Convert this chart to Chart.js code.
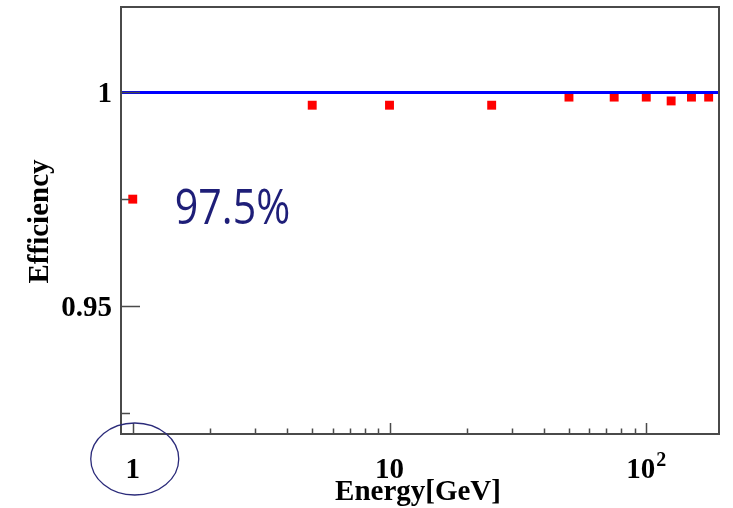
<!DOCTYPE html>
<html>
<head>
<meta charset="utf-8">
<title>Efficiency vs Energy</title>
<script src="https://cdn.jsdelivr.net/npm/chart.js@4/dist/chart.umd.min.js"></script>
<style>
  html, body { margin: 0; padding: 0; background: #ffffff; }
  canvas { display: block; }
</style>
</head>
<body>
<canvas id="c" width="733" height="508"></canvas>
<script>
// Beam energies [GeV] and measured efficiency
const energies = [1, 5, 10, 25, 50, 75, 100, 125, 150, 175];
const efficiency = [0.975, 0.997, 0.997, 0.997, 0.9989, 0.9989, 0.9989, 0.998, 0.9989, 0.9989];

// Reference level (full efficiency)
const referenceLevel = 1.0;

// Axis ranges
const xRange = [0.9, 192];
const yRange = [0.92, 1.02];

// Tick positions and labels
const xMajorTicks = [1, 10, 100];
const xMajorLabels = [['1', ''], ['10', ''], ['10', '2']];
const xMinorTicks = [2, 3, 4, 5, 6, 7, 8, 9, 20, 30, 40, 50, 60, 70, 80, 90];
const yMajorTicks = [0.95, 1.0];
const yMajorLabels = ['0.95', '1'];
const yMinorTicks = [0.925, 0.975];

const xTitle = 'Energy[GeV]';
const yTitle = 'Efficiency';

const points = energies.map((e, i) => ({ x: e, y: efficiency[i] }));
const refLine = [{ x: xRange[0], y: referenceLevel }, { x: xRange[1], y: referenceLevel }];

const SERIF_BOLD = "bold 29px 'Liberation Serif', 'DejaVu Serif', serif";
const SERIF_BOLD_SMALL = "bold 20px 'Liberation Serif', 'DejaVu Serif', serif";

const axesPlugin = {
  id: 'frameAxes',
  afterDatasetsDraw(chart) {
    const ctx = chart.ctx;
    const a = chart.chartArea;
    const xs = chart.scales.x, ys = chart.scales.y;
    ctx.save();

    // frame
    ctx.strokeStyle = '#4a4a4a';
    ctx.lineWidth = 2;
    ctx.strokeRect(a.left, a.top, a.right - a.left, a.bottom - a.top);

    // y ticks (inside the frame)
    ctx.lineWidth = 1.5;
    ctx.beginPath();
    yMajorTicks.forEach(v => {
      const p = Math.round(ys.getPixelForValue(v)) + 0.5;
      ctx.moveTo(a.left, p); ctx.lineTo(a.left + 19, p);
    });
    yMinorTicks.forEach(v => {
      const p = Math.round(ys.getPixelForValue(v)) + 0.5;
      ctx.moveTo(a.left, p); ctx.lineTo(a.left + 9, p);
    });
    // x ticks
    xMajorTicks.forEach(v => {
      const p = Math.round(xs.getPixelForValue(v)) + 0.5;
      ctx.moveTo(p, a.bottom); ctx.lineTo(p, a.bottom - 11);
    });
    xMinorTicks.forEach(v => {
      const p = Math.round(xs.getPixelForValue(v)) + 0.5;
      ctx.moveTo(p, a.bottom); ctx.lineTo(p, a.bottom - 5.5);
    });
    ctx.stroke();

    // y tick labels
    ctx.fillStyle = '#000000';
    ctx.font = SERIF_BOLD;
    ctx.textAlign = 'right';
    ctx.textBaseline = 'alphabetic';
    yMajorTicks.forEach((v, i) => {
      const p = ys.getPixelForValue(v);
      ctx.fillText(yMajorLabels[i], a.left - 9, p + 10);
    });

    // x tick labels (with optional exponent)
    const baseY = a.bottom + 44;
    xMajorTicks.forEach((v, i) => {
      const p = xs.getPixelForValue(v);
      const [base, exp] = xMajorLabels[i];
      ctx.font = SERIF_BOLD;
      const wb = ctx.measureText(base).width;
      let we = 0;
      if (exp) {
        ctx.font = SERIF_BOLD_SMALL;
        we = ctx.measureText(exp).width + 1;
      }
      const x0 = p - (wb + we) / 2;
      ctx.textAlign = 'left';
      ctx.font = SERIF_BOLD;
      ctx.fillText(base, x0, baseY);
      if (exp) {
        ctx.font = SERIF_BOLD_SMALL;
        ctx.fillText(exp, x0 + wb + 1, baseY - 12);
      }
    });

    // axis titles
    ctx.font = SERIF_BOLD;
    ctx.textAlign = 'center';
    ctx.fillText(xTitle, (a.left + a.right) / 2 - 2, a.bottom + 66);
    ctx.save();
    ctx.translate(48, (a.top + a.bottom) / 2 + 1);
    ctx.rotate(-Math.PI / 2);
    ctx.fillText(yTitle, 0, 0);
    ctx.restore();

    // ellipse around the first energy label
    const x1 = xs.getPixelForValue(energies[0]);
    ctx.strokeStyle = '#2b2b7a';
    ctx.lineWidth = 1.3;
    ctx.beginPath();
    ctx.ellipse(x1 + 2, a.bottom + 25, 44, 36, 0, 0, Math.PI * 2);
    ctx.stroke();

    // efficiency annotation for the lowest energy
    const py = ys.getPixelForValue(efficiency[0]);
    ctx.save();
    ctx.translate(x1 + 42, py + 25);
    ctx.scale(0.84, 1);
    ctx.fillStyle = '#1e1e78';
    ctx.font = "49px 'Open Sans', 'Noto Sans', sans-serif";
    ctx.textAlign = 'left';
    ctx.fillText((efficiency[0] * 100).toFixed(1) + '%', 0, 0);
    ctx.restore();

    ctx.restore();
  }
};

new Chart(document.getElementById('c'), {
  type: 'scatter',
  data: {
    datasets: [
      {
        type: 'line',
        data: refLine,
        borderColor: '#0000ff',
        borderWidth: 3,
        pointRadius: 0,
        fill: false
      },
      {
        data: points,
        pointStyle: 'rect',
        pointRadius: 6.3,
        backgroundColor: '#ff0000',
        borderWidth: 0
      }
    ]
  },
  options: {
    responsive: false,
    devicePixelRatio: 1,
    animation: false,
    layout: { padding: { left: 121, top: 7, right: 14, bottom: 74 } },
    scales: {
      x: { type: 'logarithmic', min: xRange[0], max: xRange[1], display: false },
      y: { type: 'linear', min: yRange[0], max: yRange[1], display: false }
    },
    plugins: { legend: { display: false }, tooltip: { enabled: false } }
  },
  plugins: [axesPlugin]
});
</script>
</body>
</html>
